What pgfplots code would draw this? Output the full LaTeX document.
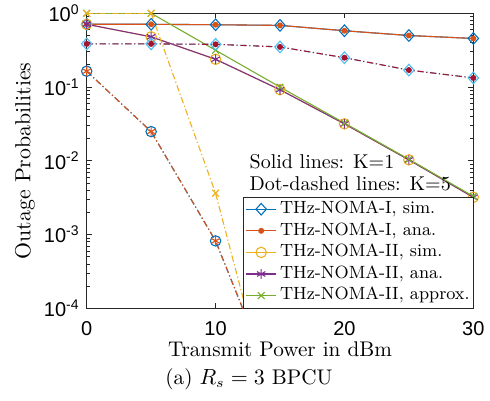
\documentclass[border=0pt]{standalone}
\usepackage{fontspec}
\usepackage{pgfplots}
\pgfplotsset{compat=1.18}
\newfontfamily\arial{Liberation Sans}
\definecolor{mblue}{HTML}{0072BD}
\definecolor{morange}{HTML}{D95319}
\definecolor{myellow}{HTML}{EDB120}
\definecolor{mpurple}{HTML}{7E2F8E}
\definecolor{mgreen}{HTML}{77AC30}
\definecolor{mlblue}{HTML}{4DBEEE}
\definecolor{mdred}{HTML}{A2142F}
\definecolor{axgray}{gray}{0.15}
\tikzset{dashdot/.style={dash pattern=on 3.2pt off 1.3pt on 0.6pt off 1.3pt}}
\begin{document}
\begin{tikzpicture}
\path[use as bounding box] (-43.35pt,-46pt) rectangle (201.65pt,154.15pt);
\begin{axis}[
  at={(0pt,0pt)}, anchor=south west,
  scale only axis, width=193.3pt, height=147.5pt,
  ymode=log, xmin=0, xmax=30, ymin=1e-4, ymax=1,
  xtick={0,10,20,30}, xticklabels={0,10,20,30},
  ytick={1e-4,1e-3,1e-2,1e-1,1},
  yticklabels={10\textsuperscript{-4},10\textsuperscript{-3},10\textsuperscript{-2},10\textsuperscript{-1},10\textsuperscript{0}},
  xticklabel style={font=\arial\fontsize{10}{12}\selectfont, yshift=-3pt},
  yticklabel style={font=\arial\fontsize{10}{12}\selectfont, xshift=0pt},
  axis line style={color=axgray, line width=0.4pt},
  tick style={color=axgray, line width=0.4pt},
  major tick length=2.5pt, minor tick length=1.5pt,
  every axis plot/.append style={line width=0.55pt},
  legend cell align=left,
  legend style={at={(rel axis cs:1,0)}, anchor=south east, draw=axgray, fill=white,
    font=\fontsize{8.85}{10.8}\selectfont, inner xsep=1.15pt, inner ysep=0.75pt, row sep=0pt,
    line width=0.4pt,
    nodes={inner xsep=0.5pt, inner ysep=1.35pt, text height=6.2pt, text depth=1.9pt},
    /tikz/every odd column/.append style={column sep=1.15pt}},
  legend image code/.code={\draw[mark repeat=2,mark phase=2] plot coordinates {(0pt,0pt) (7.5pt,0pt) (15pt,0pt)};},
]
% K = 1, solid
\addplot[color=mblue, mark=diamond, mark size=2.9pt, mark options={xscale=1.2, solid}] coordinates {
 (0,0.71) (5,0.71) (10,0.70) (15,0.686) (20,0.58) (25,0.50) (30,0.456)};
\addlegendentry{THz-NOMA-I, sim.}
\addplot[color=morange, mark=*, mark size=1.2pt, mark options={solid}] coordinates {
 (0,0.71) (5,0.71) (10,0.70) (15,0.686) (20,0.58) (25,0.50) (30,0.456)};
\addlegendentry{THz-NOMA-I, ana.}
\addplot[color=myellow, mark=o, mark size=2.6pt, mark options={solid}] coordinates {
 (0,0.71) (5,0.48) (10,0.238) (15,0.092) (20,0.0317) (25,0.0103) (30,0.0032)};
\addlegendentry{THz-NOMA-II, sim.}
\addplot[color=mpurple, mark=asterisk, mark size=2.4pt, mark options={solid}] coordinates {
 (0,0.71) (5,0.48) (10,0.238) (15,0.092) (20,0.0317) (25,0.0103) (30,0.0032)};
\addlegendentry{THz-NOMA-II, ana.}
\addplot[color=mgreen, mark=x, mark size=2.4pt, mark options={solid}] coordinates {
 (0,1) (5,1) (10,0.316) (15,0.1) (20,0.0325) (25,0.0105) (30,0.0033)};
\addlegendentry{THz-NOMA-II, approx.}
% K = 5, dot-dashed
\addplot[forget plot, color=mlblue, dashdot, mark=diamond, mark size=2.9pt, mark options={xscale=1.2, solid}] coordinates {
 (0,0.385) (5,0.385) (10,0.38) (15,0.35) (20,0.25) (25,0.17) (30,0.133)};
\addplot[forget plot, color=mdred, dashdot, mark=*, mark size=1.2pt, mark options={solid}] coordinates {
 (0,0.385) (5,0.385) (10,0.38) (15,0.35) (20,0.25) (25,0.17) (30,0.133)};
\addplot[forget plot, color=mblue, dashdot, mark=o, mark size=2.6pt, mark options={solid}, mark indices={1,2,3}] coordinates {
 (0,0.164) (5,0.0249) (10,0.00082) (15,0.0000055)};
\addplot[forget plot, color=morange, dashdot, mark=asterisk, mark size=2.4pt, mark options={solid}, mark indices={1,2,3}] coordinates {
 (0,0.164) (5,0.0249) (10,0.00082) (15,0.0000055)};
\addplot[forget plot, color=myellow, dashdot, mark=x, mark size=2.4pt, mark options={solid}, mark indices={1,2,3}] coordinates {
 (0,1) (5,1) (10,0.00364) (15,0.0000017)};
\end{axis}
\node[anchor=base west, font=\fontsize{10}{12}\selectfont, inner sep=0pt] at (81.3pt,70.1pt) {Solid lines: K=1};
\node[anchor=base west, font=\fontsize{10}{12}\selectfont, inner sep=0pt] at (81.3pt,59pt) {Dot-dashed lines: K=5};
\node[anchor=base, font=\fontsize{10.6}{12}\selectfont, inner sep=0pt] at (96.65pt,-24.3pt) {Transmit Power in dBm};
\node[anchor=base, font=\fontsize{10.6}{12}\selectfont, inner sep=0pt] at (81.15pt,-38pt) {(a) $R_s=3$ BPCU};
\node[rotate=90, font=\fontsize{10.9}{12}\selectfont, inner sep=0pt] at (-30.85pt,73.75pt) {Outage Probabilities};
\end{tikzpicture}
\end{document}
